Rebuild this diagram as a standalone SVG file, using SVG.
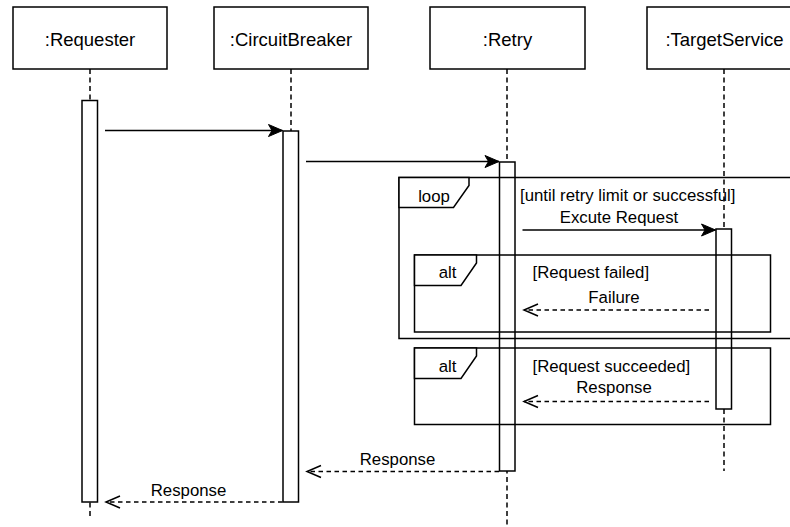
<svg xmlns="http://www.w3.org/2000/svg" width="790" height="527" viewBox="0 0 790 527">
  <style>
    .box { fill: #ffffff; stroke: #000000; stroke-width: 1.5; }
    .act { fill: #ffffff; stroke: #000000; stroke-width: 1.5; }
    .life { stroke: #000000; stroke-width: 1.5; stroke-dasharray: 5 3.5; fill: none; }
    .frame { fill: none; stroke: #000000; stroke-width: 1.5; }
    .tab { fill: #ffffff; stroke: #000000; stroke-width: 1.5; }
    .msg { stroke: #000000; stroke-width: 1.5; fill: none; marker-end: url(#solid); }
    .ret { stroke: #000000; stroke-width: 1.5; fill: none; stroke-dasharray: 4.5 3.5; marker-end: url(#open); }
    .hdr { font-family: "Liberation Sans", Arial, sans-serif; font-size: 18.5px; fill: #000000; text-anchor: middle; }
    .lbl { font-family: "Liberation Sans", Arial, sans-serif; font-size: 16.8px; fill: #000000; }
    .mid { text-anchor: middle; }
  </style>
  <defs>
    <marker id="solid" markerUnits="userSpaceOnUse" markerWidth="15" markerHeight="13" refX="14" refY="6" orient="auto" overflow="visible">
      <path d="M0,0 L14,6 L0,12 L3.5,6 Z" fill="#000000" stroke="#000000" stroke-width="1"/>
    </marker>
    <marker id="open" markerUnits="userSpaceOnUse" markerWidth="15" markerHeight="13" refX="14" refY="6" orient="auto" overflow="visible">
      <path d="M0,0 L14,6 L0,12" fill="none" stroke="#000000" stroke-width="1.5"/>
    </marker>
  </defs>

  <!-- lifelines: header box, dashed line, activation bar -->
  <g id="requester">
    <line class="life" x1="90" y1="69" x2="90" y2="518"/>
    <rect class="box" x="13" y="7" width="154" height="62"/>
    <text class="hdr" x="90" y="46">:Requester</text>
    <rect class="act" x="82" y="100.5" width="15.5" height="401.5"/>
  </g>
  <g id="circuitbreaker">
    <line class="life" x1="291" y1="69" x2="291" y2="131"/>
    <rect class="box" x="214" y="7" width="154" height="62"/>
    <text class="hdr" x="291" y="46">:CircuitBreaker</text>
    <rect class="act" x="283" y="131" width="15.5" height="371"/>
  </g>
  <g id="retry">
    <line class="life" x1="507" y1="69" x2="507" y2="527"/>
    <rect class="box" x="430" y="7" width="155" height="62"/>
    <text class="hdr" x="507.5" y="46">:Retry</text>
    <rect class="act" x="499.5" y="162" width="15.5" height="309"/>
  </g>
  <g id="targetservice">
    <line class="life" x1="724" y1="69" x2="724" y2="471"/>
    <rect class="box" x="647" y="7" width="154" height="62"/>
    <text class="hdr" x="724.5" y="46">:TargetService</text>
    <rect class="act" x="716" y="229" width="15.5" height="180"/>
  </g>

  <!-- combined fragments -->
  <g id="loop-frame">
    <rect class="frame" x="399" y="177.5" width="405" height="161"/>
    <path class="tab" d="M399,177.5 L469,177.5 L469,185.5 L453.5,207.5 L399,207.5 Z"/>
    <text class="lbl mid" x="434" y="201.5">loop</text>
    <text class="lbl" x="520" y="201">[until retry limit or successful]</text>
  </g>
  <g id="alt-failed">
    <rect class="frame" x="414.5" y="255" width="356" height="77"/>
    <path class="tab" d="M414.5,255 L476.5,255 L476.5,263 L461,285.5 L414.5,285.5 Z"/>
    <text class="lbl mid" x="447.5" y="278">alt</text>
    <text class="lbl" x="532.5" y="278">[Request failed]</text>
  </g>
  <g id="alt-succeeded">
    <rect class="frame" x="414.5" y="348" width="356" height="76.5"/>
    <path class="tab" d="M414.5,348 L476.5,348 L476.5,356 L461,378.5 L414.5,378.5 Z"/>
    <text class="lbl mid" x="447.5" y="371.5">alt</text>
    <text class="lbl" x="532.5" y="371.5">[Request succeeded]</text>
  </g>

  <!-- messages -->
  <g id="connectors">
    <line class="msg" x1="105" y1="130.5" x2="282.5" y2="130.5"/>
    <line class="msg" x1="306" y1="161.5" x2="499" y2="161.5"/>
    <line class="msg" x1="522.5" y1="230" x2="715.5" y2="230"/>
    <text class="lbl mid" x="619" y="222.5">Excute Request</text>

    <line class="ret" x1="709" y1="310" x2="524" y2="310"/>
    <text class="lbl mid" x="614" y="303">Failure</text>

    <line class="ret" x1="709" y1="401.5" x2="524" y2="401.5"/>
    <text class="lbl mid" x="614" y="393">Response</text>

    <line class="ret" x1="499" y1="471.5" x2="307" y2="471.5"/>
    <text class="lbl mid" x="397.5" y="465">Response</text>

    <line class="ret" x1="282.5" y1="502" x2="106" y2="502"/>
    <text class="lbl mid" x="188.5" y="495.5">Response</text>
  </g>
</svg>
